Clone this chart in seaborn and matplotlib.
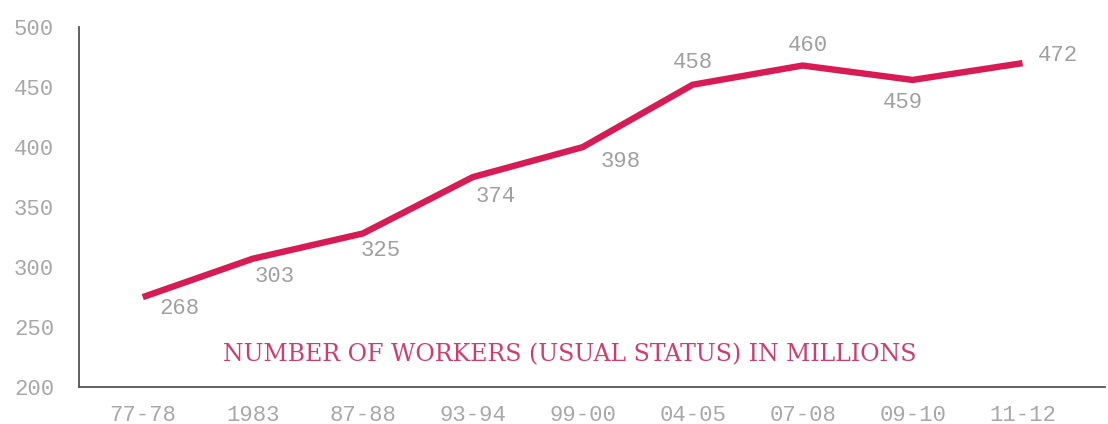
import pandas as pd
import seaborn as sns
import matplotlib.pyplot as plt

# Values
years = ["77-78", "1983", "87-88", "93-94", "99-00", "04-05", "07-08", "09-10", "11-12"]
line_values = [275, 307, 328, 375, 400, 452, 468, 456, 470]
point_labels = ["268", "303", "325", "374", "398", "458", "460", "459", "472"]
label_offsets = [(37, -11), (22, -18), (18, -17), (23, -19), (38, -14),
                 (0, 22), (5, 20), (-10, -23), (35, 8)]
y_ticks = [200, 250, 300, 350, 400, 450, 500]

df = pd.DataFrame({"idx": range(len(years)), "workers": line_values})

sns.set_style("white")
plt.rcParams["font.family"] = ["Liberation Mono", "DejaVu Sans Mono"]

fig = plt.figure(figsize=(11.08, 4.24), dpi=100)
ax = fig.add_axes([0.0713, 0.087, 0.926, 0.849])

pink = "#d81b55"
sns.lineplot(data=df, x="idx", y="workers", color=pink, linewidth=4.6,
             solid_capstyle="butt", solid_joinstyle="round", ax=ax)

# Value labels beside each vertex
for i, (v, lab) in enumerate(zip(line_values, point_labels)):
    ax.annotate(lab, (i, v), xytext=label_offsets[i], textcoords="offset pixels",
                ha="center", va="center", fontsize=16, color="#a0a0a0")

ax.text(0.478, 0.09, "NUMBER OF WORKERS (USUAL STATUS) IN MILLIONS",
        transform=ax.transAxes, ha="center", va="center",
        family="DejaVu Serif", fontsize=17, color="#d43a6e")

ax.set_xlim(-0.58, 8.75)
ax.set_ylim(200, 500)
ax.set_xticks(range(len(years)))
ax.set_xticklabels(years)
ax.set_yticks(y_ticks)
ax.tick_params(axis="both", length=0, labelsize=16, labelcolor="#a8a8a8")
ax.tick_params(axis="y", pad=18)
ax.tick_params(axis="x", pad=13)
ax.set_xlabel("")
ax.set_ylabel("")

for side in ["top", "right"]:
    ax.spines[side].set_visible(False)
for side in ["left", "bottom"]:
    ax.spines[side].set_color("#555555")
    ax.spines[side].set_linewidth(1.3)

fig.savefig("out.png", dpi=100)
